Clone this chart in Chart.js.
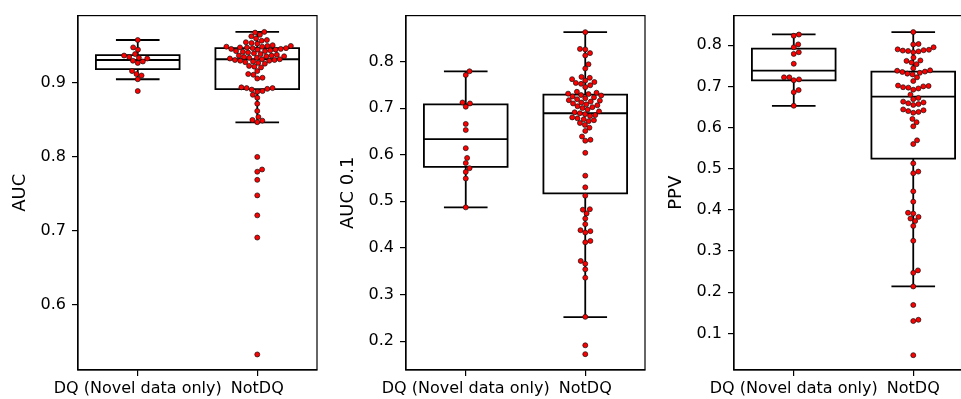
<!DOCTYPE html>
<html>
<head>
<meta charset="utf-8">
<script src="https://cdn.jsdelivr.net/npm/chart.js@4.4.1/dist/chart.umd.min.js"></script>
<style>
html, body { margin: 0; padding: 0; background: #fff; overflow: hidden; width: 961px; height: 399px; }
canvas { position: absolute; top: 0; }
</style>
</head>
<body>
<canvas id="auc_plot" style="left:0px" width="330" height="399"></canvas>
<canvas id="auc01_plot" style="left:330px" width="320" height="399"></canvas>
<canvas id="ppv_plot" style="left:650px" width="330" height="399"></canvas>
<script>
var categories = ["DQ (Novel data only)", "NotDQ"];

// AUC
var aucDQ = [0.958, 0.948, 0.945, 0.939, 0.937, 0.935, 0.934, 0.933, 0.930, 0.929,
    0.927, 0.916, 0.912, 0.910, 0.905, 0.889];
var aucNotDQ = [0.969, 0.968, 0.965, 0.963, 0.960, 0.958, 0.957, 0.955, 0.954, 0.953,
    0.951, 0.950, 0.950, 0.949, 0.949, 0.948, 0.948, 0.947, 0.947, 0.946, 0.946, 0.945, 0.945,
    0.944, 0.943, 0.943, 0.942, 0.941, 0.940, 0.939,
    0.938, 0.937, 0.937, 0.936, 0.936, 0.935, 0.934, 0.934, 0.933,
    0.932, 0.932, 0.931, 0.931, 0.930, 0.930, 0.929,
    0.928, 0.927, 0.926, 0.923, 0.922, 0.921, 0.916, 0.912, 0.911, 0.907, 0.906,
    0.894, 0.893, 0.893, 0.892, 0.891, 0.889, 0.888, 0.884, 0.880, 0.872, 0.862, 0.854,
    0.850, 0.849, 0.847, 0.800, 0.783, 0.780, 0.769, 0.748, 0.721, 0.691, 0.533];
var aucTicks = [0.6, 0.7, 0.8, 0.9];
// whisker low, q1, median, q3, whisker high
var aucBoxDQ = [0.905, 0.9187, 0.931, 0.9377, 0.958];
var aucBoxNotDQ = [0.8467, 0.8916, 0.932, 0.947, 0.969];

// AUC 0.1
var auc01DQ = [0.779, 0.771, 0.712, 0.710, 0.703, 0.666, 0.653, 0.614, 0.593, 0.582,
    0.571, 0.563, 0.549, 0.487];
var auc01NotDQ = [0.863, 0.827, 0.826, 0.818, 0.813, 0.794, 0.785,
    0.767, 0.765, 0.762, 0.759, 0.756, 0.754, 0.752, 0.749, 0.745,
    0.735, 0.733, 0.731, 0.730, 0.728, 0.727, 0.725, 0.723,
    0.721, 0.719, 0.717, 0.716, 0.714, 0.712, 0.710, 0.708,
    0.706, 0.704, 0.702, 0.700, 0.697,
    0.693, 0.691, 0.689, 0.687, 0.685, 0.683,
    0.680, 0.678, 0.676, 0.674, 0.672, 0.668,
    0.664, 0.658, 0.651, 0.639, 0.632, 0.630,
    0.604, 0.555, 0.530, 0.512,
    0.483, 0.482, 0.474, 0.463, 0.451, 0.438, 0.436, 0.433, 0.415, 0.412,
    0.372, 0.366, 0.354, 0.336, 0.252, 0.191, 0.172];
var auc01Ticks = [0.2, 0.3, 0.4, 0.5, 0.6, 0.7, 0.8];
var auc01BoxDQ = [0.487, 0.574, 0.6336, 0.708, 0.779];
var auc01BoxNotDQ = [0.2516, 0.517, 0.689, 0.729, 0.863];

// PPV
var ppvDQ = [0.826, 0.823, 0.802, 0.795, 0.783, 0.779, 0.755, 0.717, 0.715, 0.722,
    0.722, 0.691, 0.686, 0.653];
var ppvNotDQ = [0.832, 0.803, 0.802, 0.795,
    0.790, 0.789, 0.788, 0.787, 0.786, 0.785, 0.783,
    0.770, 0.763, 0.762, 0.758, 0.754, 0.744,
    0.739, 0.738, 0.736, 0.735, 0.733, 0.731, 0.729,
    0.722, 0.713,
    0.702, 0.701, 0.700, 0.698, 0.697, 0.695, 0.692,
    0.680, 0.672, 0.669,
    0.663, 0.661, 0.659, 0.657, 0.655,
    0.644, 0.642, 0.640, 0.638, 0.636,
    0.621, 0.613, 0.603,
    0.569, 0.560, 0.513, 0.493, 0.489, 0.445, 0.420,
    0.393, 0.391, 0.383, 0.379, 0.373, 0.361, 0.325, 0.253, 0.247, 0.214,
    0.169, 0.133, 0.130, 0.047];
var ppvTicks = [0.1, 0.2, 0.3, 0.4, 0.5, 0.6, 0.7, 0.8];
var ppvBoxDQ = [0.6526, 0.7144, 0.7385, 0.792, 0.8264];
var ppvBoxNotDQ = [0.2144, 0.5245, 0.675, 0.736, 0.832];

var FONT = "'DejaVu Sans', sans-serif";
var BOX_HALF = 0.35, CAP_HALF = 0.175;
var DOT_R = 2.5, DOT_GAP = 5.3;

// outline of one box with whiskers, pieces split by null gaps
function boxPath(stats, c) {
    var lo = stats[0], q1 = stats[1], med = stats[2], q3 = stats[3], hi = stats[4];
    var gap = {x: c, y: null};
    return [
        {x: c - BOX_HALF, y: q1}, {x: c + BOX_HALF, y: q1}, {x: c + BOX_HALF, y: q3},
        {x: c - BOX_HALF, y: q3}, {x: c - BOX_HALF, y: q1}, gap,
        {x: c - BOX_HALF, y: med}, {x: c + BOX_HALF, y: med}, gap,
        {x: c, y: q3}, {x: c, y: hi}, gap,
        {x: c - CAP_HALF, y: hi}, {x: c + CAP_HALF, y: hi}, gap,
        {x: c, y: q1}, {x: c, y: lo}, gap,
        {x: c - CAP_HALF, y: lo}, {x: c + CAP_HALF, y: lo}
    ];
}

// beeswarm placement done in pixels, converted back through the scales
function swarm(values, center, xs, ys) {
    var cx = xs.getPixelForValue(center);
    var pts = values.map(function (v) { return {v: v, y: ys.getPixelForValue(v)}; });
    pts.sort(function (a, b) { return b.y - a.y; });
    var placed = [];
    pts.forEach(function (p) {
        var cands = [cx];
        placed.forEach(function (q) {
            var dy = Math.abs(q.y - p.y);
            if (dy < DOT_GAP) {
                var dx = Math.sqrt(DOT_GAP * DOT_GAP - dy * dy);
                cands.push(q.x + dx, q.x - dx);
            }
        });
        cands.sort(function (a, b) { return Math.abs(a - cx) - Math.abs(b - cx); });
        for (var i = 0; i < cands.length; i++) {
            var c = cands[i];
            var ok = placed.every(function (q) {
                return (q.x - c) * (q.x - c) + (q.y - p.y) * (q.y - p.y) >= DOT_GAP * DOT_GAP - 0.01;
            });
            if (ok) { p.x = c; break; }
        }
        placed.push(p);
    });
    return placed.map(function (p) { return {x: xs.getValueForPixel(p.x), y: p.v}; });
}

var frame = {
    id: 'frame',
    beforeDatasetsDraw: function (chart) {
        var a = chart.chartArea, ctx = chart.ctx;
        ctx.save();
        ctx.strokeStyle = '#000';
        ctx.lineWidth = 1.2;
        ctx.strokeRect(a.left, a.top, a.right - a.left, a.bottom - a.top);
        ctx.restore();
    }
};

function makePanel(id, p) {
    var chart = new Chart(document.getElementById(id), {
        type: 'scatter',
        data: {
            datasets: [
                {type: 'scatter', data: [], pointRadius: DOT_R, pointBorderWidth: 0.7,
                    pointBackgroundColor: '#ff0000', pointBorderColor: '#111', order: 0},
                {type: 'scatter', data: [], pointRadius: DOT_R, pointBorderWidth: 0.7,
                    pointBackgroundColor: '#ff0000', pointBorderColor: '#111', order: 0},
                {type: 'line', data: boxPath(p.boxes[0], 0).concat([{x: 0.5, y: null}], boxPath(p.boxes[1], 1)),
                    borderColor: '#000', borderWidth: 1.8, pointRadius: 0, fill: false, spanGaps: false,
                    borderCapStyle: 'square', borderJoinStyle: 'miter', order: 1}
            ]
        },
        options: {
            responsive: false,
            animation: false,
            events: [],
            layout: {padding: {left: p.padLeft, right: p.padRight, top: 11, bottom: 0}},
            plugins: {legend: {display: false}, tooltip: {enabled: false}},
            scales: {
                x: {
                    type: 'linear', min: -0.5, max: 1.5,
                    afterBuildTicks: function (s) { s.ticks = categories.map(function (c, i) { return {value: i}; }); },
                    afterFit: function (s) { s.height = 29; },
                    ticks: {callback: function (v) { return categories[v]; }, color: '#000',
                        font: {family: FONT, size: 16}, padding: 3, maxRotation: 0, autoSkip: false},
                    grid: {drawOnChartArea: false, drawTicks: true, tickLength: 6, color: '#000', lineWidth: 1.2},
                    border: {display: true, color: '#000', width: 1.2}
                },
                y: {
                    type: 'linear', min: p.min, max: p.max,
                    afterBuildTicks: function (s) { s.ticks = p.ticks.map(function (v) { return {value: v}; }); },
                    afterFit: function (s) { s.width = 68; },
                    ticks: {callback: function (v) { return v.toFixed(1); }, color: '#000',
                        font: {family: FONT, size: 16}, padding: 6},
                    grid: {drawOnChartArea: false, drawTicks: true, tickLength: 6, color: '#000', lineWidth: 1.2},
                    border: {display: true, color: '#000', width: 1.2},
                    title: {display: true, text: p.title, color: '#000', font: {family: FONT, size: 18}, padding: 0}
                }
            }
        },
        plugins: [frame]
    });
    chart.data.datasets[0].data = swarm(p.values[0], 0, chart.scales.x, chart.scales.y);
    chart.data.datasets[1].data = swarm(p.values[1], 1, chart.scales.x, chart.scales.y);
    chart.update('none');
    return chart;
}

makePanel('auc_plot', {title: 'AUC', min: 0.512, max: 0.991, ticks: aucTicks,
    values: [aucDQ, aucNotDQ], boxes: [aucBoxDQ, aucBoxNotDQ], padLeft: 10, padRight: 13});
makePanel('auc01_plot', {title: 'AUC 0.1', min: 0.138, max: 0.8985, ticks: auc01Ticks,
    values: [auc01DQ, auc01NotDQ], boxes: [auc01BoxDQ, auc01BoxNotDQ], padLeft: 8, padRight: 5});
makePanel('ppv_plot', {title: 'PPV', min: 0.011, max: 0.872, ticks: ppvTicks,
    values: [ppvDQ, ppvNotDQ], boxes: [ppvBoxDQ, ppvBoxNotDQ], padLeft: 16, padRight: 7});
</script>
</body>
</html>
